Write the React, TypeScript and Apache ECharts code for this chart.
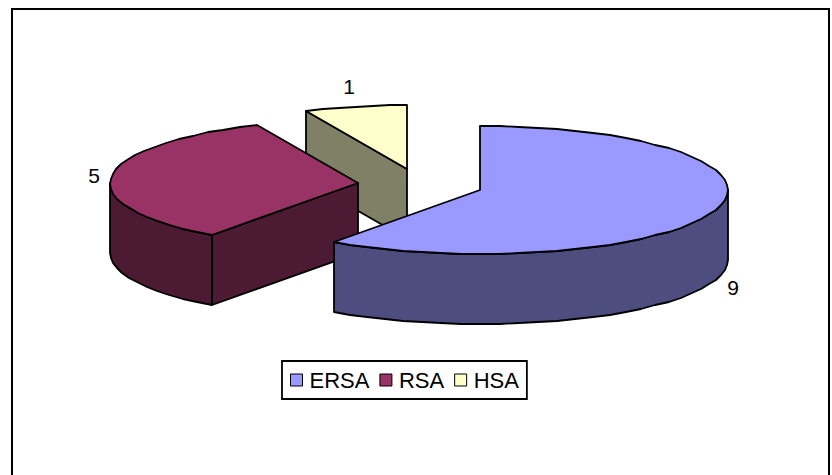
import React, { useEffect, useRef } from "react";
import * as echarts from "echarts";

const categories = ["ERSA", "RSA", "HSA"];
const values = [9, 5, 1];
const topColors = ["#9999FF", "#993366", "#FFFFCC"];
const sideColors = ["#4D4D80", "#4D1A33", "#808066"];

const CX = 420.4, CY = 185, RX = 248, RY = 64, DEPTH = 70, EXPLODE = 0.253;
const labelOffsets = [[17, 77], [-17, -2], [-7, -21]];
const FONT_FAMILY = '"Liberation Sans", Arial, sans-serif';
const LINE = { stroke: "#000", lineWidth: 1.8, lineJoin: "round" as const };

const total = values.reduce((a, b) => a + b, 0);

function makeRenderItem(index: number) {
  const before = values.slice(0, index).reduce((a, b) => a + b, 0);
  return (_params: any, api: any) => {
    const v = api.value(0);
    const a0 = (before / total) * Math.PI * 2;
    const a1 = ((before + v) / total) * Math.PI * 2;
    const mid = (a0 + a1) / 2;
    const ox = CX + EXPLODE * RX * Math.sin(mid);
    const oy = CY - EXPLODE * RY * Math.cos(mid);
    const pt = (a: number, dy = 0): number[] => [
      Math.round(ox + RX * Math.sin(a)),
      Math.round(oy - RY * Math.cos(a) + dy),
    ];
    const arc = (s: number, e: number, dy = 0): number[][] => {
      const n = Math.max(2, Math.ceil(Math.abs(e - s) / (Math.PI / 40)));
      const out: number[][] = [];
      for (let i = 0; i <= n; i++) out.push(pt(s + ((e - s) * i) / n, dy));
      return out;
    };
    const apex = [Math.round(ox), Math.round(oy)];
    const apexLow = [apex[0], apex[1] + DEPTH];
    const children: any[] = [];
    const poly = (points: number[][], fill: string) =>
      children.push({
        type: "polygon",
        shape: { points },
        style: { fill, ...LINE },
      });

    // radial wall at the slice's starting angle is visible when it runs down-left from the apex
    if (index > 0 && Math.sin(a0) < 0) {
      poly([apex, pt(a0), pt(a0, DEPTH), apexLow], sideColors[index]);
    }
    // outer wall: the part of the rim that lies in the front half of the ellipse
    const s = Math.max(a0, Math.PI / 2);
    const e = Math.min(a1, (Math.PI * 3) / 2);
    if (e > s) {
      poly([...arc(s, e), ...arc(e, s, DEPTH)], sideColors[index]);
    }
    // top face
    poly([apex, ...arc(a0, a1)], topColors[index]);

    const rim = pt(mid);
    children.push({
      type: "text",
      style: {
        text: String(v),
        x: rim[0] + labelOffsets[index][0],
        y: rim[1] + labelOffsets[index][1],
        fill: "#000",
        font: `21px ${FONT_FAMILY}`,
        align: "center",
        verticalAlign: "middle",
      },
    });
    return { type: "group", children };
  };
}

export default function App() {
  const ref = useRef<HTMLDivElement>(null);
  useEffect(() => {
    document.body.style.margin = "0";
    const chart = echarts.init(ref.current!, undefined, { renderer: "svg" });
    // painted back to front so that nearer slices cover farther ones
    const order = [2, 1, 0];
    chart.setOption({
      animation: false,
      backgroundColor: "#fff",
      graphic: [
        {
          type: "rect",
          z: -10,
          shape: { x: 12, y: 9, width: 817, height: 480 },
          style: { fill: "#fff", stroke: "#000", lineWidth: 2 },
        },
      ],
      legend: {
        data: categories.map((name) => ({ name, icon: "rect" })),
        left: 282,
        top: 361,
        padding: [8, 8, 8, 8],
        itemWidth: 12,
        itemHeight: 12,
        itemGap: 10,
        selectedMode: false,
        borderColor: "#000",
        borderWidth: 1.8,
        backgroundColor: "#fff",
        textStyle: {
          color: "#000",
          fontFamily: FONT_FAMILY,
          fontSize: 22,
          padding: [0, 0, 0, 2],
        },
        itemStyle: { borderColor: "#000", borderWidth: 1 },
      },
      series: order.map((i) => ({
        type: "custom",
        name: categories[i],
        coordinateSystem: "none",
        z: 2 + (2 - i),
        itemStyle: { color: topColors[i] },
        renderItem: makeRenderItem(i),
        data: [[values[i]]],
        silent: true,
      })),
    });
    return () => chart.dispose();
  }, []);
  return <div ref={ref} style={{ position: "absolute", left: 0, top: 0, width: 832, height: 475 }} />;
}
